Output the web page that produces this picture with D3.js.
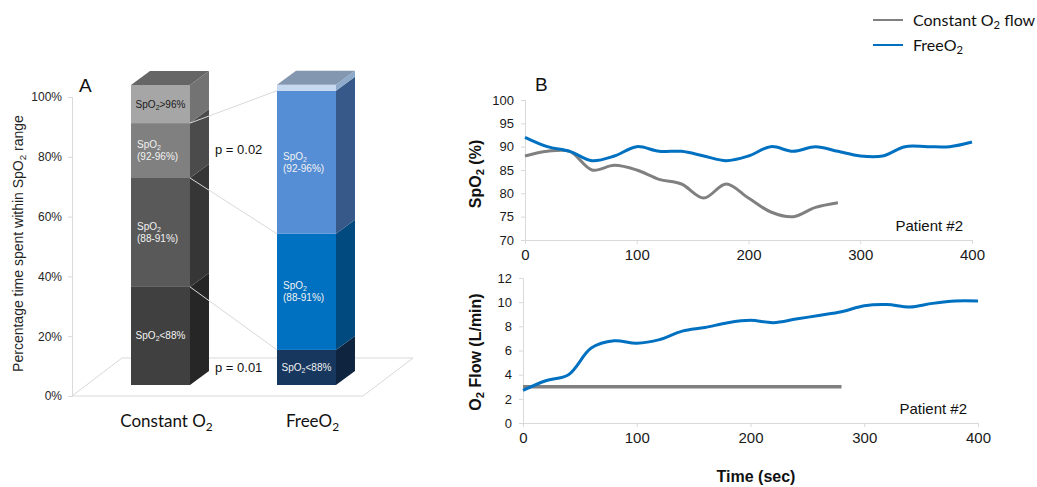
<!DOCTYPE html>
<html>
<head>
<meta charset="utf-8">
<script src="https://cdn.jsdelivr.net/npm/d3@7"></script>
<style>
  html, body { margin: 0; padding: 0; background: #ffffff; }
  svg { display: block; }
</style>
</head>
<body>
<svg id="chart" width="1037" height="487"></svg>
<script>
// ---------------- DATA ----------------
const categories = ["Constant O_2", "FreeO_2"];
const rangeKeys = ["<88", "88-91", "92-96", ">96"];            // bottom -> top
const constantPct = [32.7, 36.3, 18.3, 12.7];
const freeO2Pct   = [11.7, 38.7, 47.7, 2.0];
const pctTicks = [0, 20, 40, 60, 80, 100];
const pValues = ["p = 0.02", "p = 0.01"];

const timeSec   = [0, 20, 40, 60, 80, 100, 120, 140, 160, 180, 200, 220, 240, 260, 280, 300, 320, 340, 360, 380, 400];
const spo2Free  = [92, 90, 89, 87, 88, 90, 89, 89, 88, 87, 88, 90, 89, 90, 89, 88, 88, 90, 90, 90, 91];
const spo2Const = [88, 89, 89, 85, 86, 85, 83, 82, 79, 82, 79, 76, 75, 77, 78];
const flowFree  = [2.7, 3.5, 4.0, 6.2, 6.8, 6.6, 6.9, 7.6, 7.9, 8.3, 8.5, 8.3, 8.6, 8.9, 9.2, 9.7, 9.8, 9.6, 9.9, 10.1, 10.1];
const flowConst = [3, 3, 3, 3, 3, 3, 3, 3, 3, 3, 3, 3, 3, 3, 3];
const timeTicks = [0, 100, 200, 300, 400];
const spo2Ticks = [70, 75, 80, 85, 90, 95, 100];
const flowTicks = [0, 2, 4, 6, 8, 10, 12];
const seriesNames = ["Constant O_2 flow", "FreeO_2"];

// ---------------- STYLES ----------------
const ARIAL = "'Liberation Sans', Arial, sans-serif";
const CALIBRI = "Lato, 'Open Sans', sans-serif";
const segFront = [["#404040", "#595959", "#808080", "#a6a6a6"],
                  ["#17375e", "#0070c0", "#558ed5", "#c6d9f1"]];
const segSide  = [["#262626", "#363636", "#4b4b4b", "#737373"],
                  ["#0f243e", "#004a80", "#36598a", "#8eaacb"]];
const topFace  = ["#666666", "#8497b0"];
const labelCol = [["#f2f2f2", "#f2f2f2", "#f2f2f2", "#1a1a1a"],
                  ["#f2f2f2", "#f2f2f2", "#f2f2f2", "#1a1a1a"]];
const GREY = "#808080", BLUE = "#0070c0", AXIS = "#d9d9d9";

const svg = d3.select("#chart");

// text helper: "_2" -> subscript 2
function richText(sel, str) {
  const parts = str.split("_2");
  parts.forEach((p, i) => {
    if (p.length) sel.append("tspan").text(p);
    if (i < parts.length - 1) {
      sel.append("tspan").attr("font-size", "70%").attr("baseline-shift", "-30%").text("2");
    }
  });
  return sel;
}

// ================= PANEL A =================
const yAxisA = d3.scaleLinear().domain([0, 100]).range([396, 97]);
const yBar = d3.scaleLinear().domain([0, 100]).range([385, 85]);
const xBand = d3.scaleBand().domain(categories).range([44, 423]).padding(0.596);
const DX = 19, DY = -14;

const gA = svg.append("g");
// floor
gA.append("path")
  .attr("d", `M${72},${yAxisA(0)}L363,${yAxisA(0)}L413,358L122,358Z`)
  .attr("fill", "none").attr("stroke", AXIS).attr("stroke-width", 1);

// y axis
const axA = gA.append("g").attr("transform", "translate(72,0)")
  .call(d3.axisLeft(yAxisA).tickValues(pctTicks).tickFormat(d => d + "%").tickSize(4).tickPadding(6));
axA.select(".domain").attr("stroke", AXIS);
axA.selectAll(".tick line").attr("stroke", AXIS);
axA.selectAll(".tick text").attr("font-family", ARIAL).attr("font-size", 12).attr("fill", "#262626");

// y title
richText(gA.append("text")
  .attr("transform", `translate(23,${yAxisA(50) - 3}) rotate(-90)`)
  .attr("text-anchor", "middle").attr("font-family", ARIAL).attr("font-size", 14).attr("fill", "#262626"),
  "Percentage time spent within SpO_2 range");

// "A"
gA.append("text").attr("x", 79).attr("y", 92).attr("font-family", ARIAL).attr("font-size", 19).attr("fill", "#111").text("A");

const barSets = [constantPct, freeO2Pct];
const segLabels = [
  [["SpO_2<88%"], ["SpO_2", "(88-91%)"], ["SpO_2", "(92-96%)"], ["SpO_2>96%"]],
  [["SpO_2<88%"], ["SpO_2", "(88-91%)"], ["SpO_2", "(92-96%)"], []]
];

barSets.forEach((vals, ci) => {
  const x = xBand(categories[ci]);
  const w = xBand.bandwidth();
  let cum = 0;
  const g = gA.append("g");
  vals.forEach((v, si) => {
    const yb = yBar(cum), yt = yBar(cum + v);
    g.append("rect").attr("x", x).attr("y", yt).attr("width", w).attr("height", yb - yt)
      .attr("fill", segFront[ci][si]);
    g.append("path")
      .attr("d", `M${x + w},${yt}L${x + w + DX},${yt + DY}L${x + w + DX},${yb + DY}L${x + w},${yb}Z`)
      .attr("fill", segSide[ci][si]);
    cum += v;
  });
  const yTop = yBar(cum);
  g.append("path")
    .attr("d", `M${x},${yTop}L${x + DX},${yTop + DY}L${x + w + DX},${yTop + DY}L${x + w},${yTop}Z`)
    .attr("fill", topFace[ci]);

  // labels
  cum = 0;
  vals.forEach((v, si) => {
    const lines = segLabels[ci][si];
    const yc = (yBar(cum) + yBar(cum + v)) / 2;
    cum += v;
    if (!lines.length) return;
    if (lines.length === 1) {
      richText(g.append("text").attr("x", x + w / 2).attr("y", yc + 3.5).attr("text-anchor", "middle")
        .attr("font-family", ARIAL).attr("font-size", 10).attr("fill", labelCol[ci][si]), lines[0]);
    } else {
      lines.forEach((ln, li) => {
        richText(g.append("text").attr("x", x + 6).attr("y", yc - 6 + li * 12 + 3.5)
          .attr("font-family", ARIAL).attr("font-size", 10).attr("fill", labelCol[ci][si]), ln);
      });
    }
  });
});

// connector lines between bars
(function () {
  const xr = xBand(categories[0]) + xBand.bandwidth();
  const xl = xBand(categories[1]);
  const cumC = d3.cumsum(constantPct), cumF = d3.cumsum(freeO2Pct);
  [0, 1, 2].forEach(i => {
    gA.append("line")
      .attr("x1", xr).attr("y1", yBar(cumC[i]))
      .attr("x2", xl).attr("y2", yBar(cumF[i]))
      .attr("stroke", AXIS).attr("stroke-width", 1);
  });
})();

// p values
gA.append("text").attr("x", 215).attr("y", 154).attr("font-family", ARIAL).attr("font-size", 13).attr("fill", "#111").text(pValues[0]);
gA.append("text").attr("x", 215).attr("y", 372).attr("font-family", ARIAL).attr("font-size", 13).attr("fill", "#111").text(pValues[1]);

// category labels
categories.forEach(c => {
  richText(gA.append("text").attr("x", xBand(c) + xBand.bandwidth() / 2 + 6).attr("y", 427)
    .attr("text-anchor", "middle").attr("font-family", CALIBRI).attr("font-size", 17).attr("fill", "#111"), c);
});

// ================= PANEL B =================
const xTop = d3.scaleLinear().domain([0, 400]).range([525, 972]);
const yTop = d3.scaleLinear().domain([70, 100]).range([240, 100]);
const xBot = d3.scaleLinear().domain([0, 400]).range([523, 978]);
const yBot = d3.scaleLinear().domain([0, 12]).range([423, 278]);

function styleAxis(ax, fs) {
  ax.select(".domain").attr("stroke", AXIS);
  ax.selectAll(".tick line").attr("stroke", AXIS);
  ax.selectAll(".tick text").attr("font-family", ARIAL).attr("font-size", fs).attr("fill", "#1a1a1a");
}

const gB = svg.append("g");
// top chart axes
styleAxis(gB.append("g").attr("transform", `translate(0,${yTop(70)})`)
  .call(d3.axisBottom(xTop).tickValues(timeTicks).tickSize(4).tickPadding(5)), 15);
styleAxis(gB.append("g").attr("transform", `translate(${xTop(0)},0)`)
  .call(d3.axisLeft(yTop).tickValues(spo2Ticks).tickSize(4).tickPadding(7)), 13);
// bottom chart axes
styleAxis(gB.append("g").attr("transform", `translate(0,${yBot(0)})`)
  .call(d3.axisBottom(xBot).tickValues(timeTicks).tickSize(4).tickPadding(5)), 15);
styleAxis(gB.append("g").attr("transform", `translate(${xBot(0)},0)`)
  .call(d3.axisLeft(yBot).tickValues(flowTicks).tickSize(4).tickPadding(7)), 13);

const curve = d3.curveCatmullRom.alpha(0.5);
const lineTop = d3.line().x((d, i) => xTop(timeSec[i])).y(d => yTop(d)).curve(curve);
const lineBot = d3.line().x((d, i) => xBot(timeSec[i])).y(d => yBot(d)).curve(curve);

gB.append("path").attr("d", lineTop(spo2Const)).attr("fill", "none").attr("stroke", GREY).attr("stroke-width", 3);
gB.append("path").attr("d", lineTop(spo2Free)).attr("fill", "none").attr("stroke", BLUE).attr("stroke-width", 3);
gB.append("path").attr("d", lineBot(flowConst)).attr("fill", "none").attr("stroke", GREY).attr("stroke-width", 3.5);
gB.append("path").attr("d", lineBot(flowFree)).attr("fill", "none").attr("stroke", BLUE).attr("stroke-width", 3);

// axis titles
richText(gB.append("text").attr("transform", "translate(481,174) rotate(-90)").attr("text-anchor", "middle")
  .attr("font-family", ARIAL).attr("font-size", 16).attr("font-weight", "bold").attr("fill", "#111"), "SpO_2 (%)");
richText(gB.append("text").attr("transform", "translate(481,352) rotate(-90)").attr("text-anchor", "middle")
  .attr("font-family", ARIAL).attr("font-size", 16).attr("font-weight", "bold").attr("fill", "#111"), "O_2 Flow (L/min)");
gB.append("text").attr("x", 756).attr("y", 482).attr("text-anchor", "middle")
  .attr("font-family", ARIAL).attr("font-size", 16).attr("font-weight", "bold").attr("fill", "#111").text("Time (sec)");

// Patient labels
gB.append("text").attr("x", 963).attr("y", 231).attr("text-anchor", "end")
  .attr("font-family", ARIAL).attr("font-size", 15).attr("fill", "#111").text("Patient #2");
gB.append("text").attr("x", 967).attr("y", 414).attr("text-anchor", "end")
  .attr("font-family", ARIAL).attr("font-size", 15).attr("fill", "#111").text("Patient #2");

// "B"
gB.append("text").attr("x", 535).attr("y", 91).attr("font-family", ARIAL).attr("font-size", 19).attr("fill", "#111").text("B");

// legend
const legCols = [GREY, BLUE];
seriesNames.forEach((n, i) => {
  const y = 20 + i * 25;
  svg.append("line").attr("x1", 873).attr("x2", 903).attr("y1", y).attr("y2", y)
    .attr("stroke", legCols[i]).attr("stroke-width", 2);
  richText(svg.append("text").attr("x", 913).attr("y", y + 6)
    .attr("font-family", CALIBRI).attr("font-size", 16).attr("fill", "#111"), n);
});
</script>
</body>
</html>
